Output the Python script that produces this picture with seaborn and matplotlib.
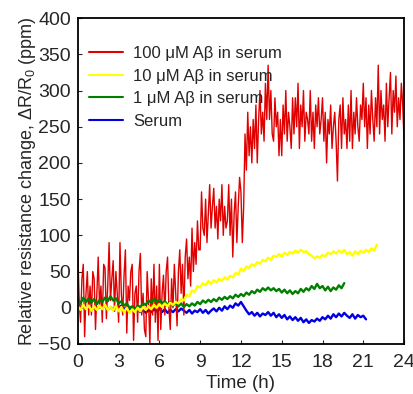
import numpy as np
import pandas as pd
import matplotlib.pyplot as plt
import seaborn as sns

# ============================================================
# DATA
# red is sampled every 0.1 h, the other three every 0.2 h
# ============================================================
RED_STEP = 0.1
STEP = 0.2

red_vals = [
    75, 10, -20, 40, 60, -40, 20, 50, -10, 30,
    -10, 50, 40, -30, 20, 70, 0, 30, -20, 60,
    55, -15, 30, 90, 10, 40, 65, -5, 50, 20,
    -20, 90, 20, -10, 45, 80, -35, 30, 10, 50,
    60, -45, 20, 30, -20, 50, 75, -10, 20, -30,
    -40, 50, 10, -50, 40, -10, 60, -20, 30, -45,
    60, -30, 20, 45, -10, 50, 70, 0, -30, 40,
    0, 60, 20, -25, 50, 80, 20, 60, -10, 70,
    95, 40, 70, 30, 110, 50, 90, 60, 120, 80,
    80, 160, 110, 100, 150, 90, 130, 170, 110, 140,
    165, 110, 140, 95, 150, 120, 170, 100, 140, 110,
    120, 170, 100, 150, 70, 130, 160, 90, 140, 180,
    160, 90, 140, 240, 190, 270, 210, 250, 200, 260,
    220, 280, 200, 260, 300, 240, 270, 230, 310, 260,
    335, 260, 300, 240, 230, 290, 250, 270, 210, 260,
    210, 280, 240, 300, 230, 270, 250, 220, 290, 240,
    290, 250, 310, 220, 280, 250, 300, 230, 270, 260,
    240, 300, 230, 270, 220, 280, 250, 290, 240, 260,
    290, 230, 270, 200, 260, 240, 280, 220, 250, 270,
    230, 175, 260, 280, 220, 290, 240, 260, 220, 280,
    230, 300, 220, 270, 240, 290, 250, 230, 280, 260,
    310, 250, 290, 220, 280, 240, 300, 260, 230, 290,
    250, 335, 240, 300, 260, 280, 230, 310, 250, 290,
    325, 240, 300, 270, 320, 250, 290, 260, 310, 280,
    230,
]

yellow_vals = [
    2, -3, 4, -2, 3,
    -4, 2, -3, 3, -2,
    4, -3, 2, -4, 3,
    -5, 1, -6, 0, -7,
    -2, -6, 0, -5, 1,
    -3, 2, -2, 4, 0,
    5, 1, 6, 2, 7,
    4, 8, 6, 12, 10,
    18, 16, 24, 22, 30,
    28, 34, 31, 37, 33,
    38, 35, 40, 37, 42,
    39, 44, 42, 48, 46,
    54, 51, 57, 55, 60,
    58, 63, 61, 66, 64,
    69, 66, 72, 70, 74,
    71, 76, 73, 77, 75,
    79, 76, 80, 77, 78,
    74, 72, 68, 71, 69,
    73, 71, 76, 74, 78,
    75, 79, 76, 80, 74,
    77, 72, 78, 74, 79,
    76, 80, 77, 82, 79,
    87,
]

green_vals = [
    12, 6, 14, 8, 13,
    7, 12, 5, 11, 8,
    14, 9, 16, 10, 13,
    6, 9, 3, 6, 0,
    2, -2, 3, 1, 6,
    4, 10, 7, 12, 8,
    11, 6, 9, 4, 8,
    3, 7, 2, 6, 1,
    5, 2, 6, 3, 8,
    5, 10, 7, 11, 8,
    12, 9, 14, 11, 15,
    12, 16, 13, 18, 15,
    19, 16, 21, 18, 23,
    20, 25, 22, 27, 24,
    28, 24, 27, 23, 26,
    21, 25, 20, 24, 19,
    23, 20, 26, 22, 27,
    24, 30, 26, 33, 27,
    30, 24, 29, 23, 28,
    25, 31, 27, 34,
]

blue_vals = [
    2, -2, 3, -1, 2,
    -3, 1, -2, 2, -1,
    3, -2, 1, -3, 2,
    -1, 3, -2, 1, -4,
    0, -5, -1, -6, -2,
    -7, -3, -6, -2, -5,
    -1, -6, -2, -7, -3,
    -6, -2, -5, -1, -4,
    -7, -3, -8, -4, -6,
    -2, -7, -3, -8, -4,
    -1, -5, 0, -4, 2,
    -2, 3, 0, 6, 3,
    8, 2, -4, -9, -6,
    -11, -7, -12, -8, -10,
    -6, -11, -7, -13, -9,
    -14, -10, -16, -12, -17,
    -13, -18, -14, -20, -16,
    -21, -17, -19, -15, -18,
    -13, -16, -11, -15, -9,
    -13, -8, -12, -7, -11,
    -14, -9, -15, -10, -13,
    -11, -16,
]

LABELS = ["100 μM Aβ in serum", "10 μM Aβ in serum", "1 μM Aβ in serum", "Serum"]
COLORS = ["#e00000", "#ffff00", "#008000", "#0000e0"]
SERIES = [red_vals, yellow_vals, green_vals, blue_vals]
STEPS = [RED_STEP, STEP, STEP, STEP]
WIDTHS = [1.0, 1.7, 1.7, 1.7]

# ============================================================
# PLOT
# ============================================================
sns.set_style("ticks")
plt.rcParams["font.family"] = ["Liberation Sans", "DejaVu Sans"]
plt.rcParams["mathtext.fontset"] = "custom"
plt.rcParams["mathtext.rm"] = "Liberation Sans"
plt.rcParams["mathtext.it"] = "Liberation Sans"

fig, ax = plt.subplots(figsize=(4.14, 3.94), dpi=100)
fig.subplots_adjust(left=0.188, right=0.976, top=0.954, bottom=0.127)

# draw order: blue, red, green, yellow
for idx in [3, 0, 2, 1]:
    vals = SERIES[idx]
    df = pd.DataFrame({"t": np.arange(len(vals)) * STEPS[idx], "v": vals})
    sns.lineplot(data=df, x="t", y="v", color=COLORS[idx], linewidth=WIDTHS[idx],
                 ax=ax, label=LABELS[idx], estimator=None, sort=False)

h, l = ax.get_legend_handles_labels()
order = [l.index(lab) for lab in LABELS]
leg = ax.legend([h[i] for i in order], LABELS, loc="upper left",
                bbox_to_anchor=(0.0, 0.95), frameon=False, fontsize=12,
                handlelength=2.0, handletextpad=0.6, labelspacing=0.45,
                borderaxespad=0.3)
for lh in leg.get_lines():
    lh.set_linewidth(1.5)

ax.set_xlim(0, 24)
ax.set_ylim(-50, 400)
ax.set_xticks(np.arange(0, 25, 3))
ax.set_yticks(np.arange(-50, 401, 50))
ax.tick_params(direction="in", length=3, width=0.8, labelsize=14, pad=5)
ax.tick_params(axis="x", pad=7)
for sp in ax.spines.values():
    sp.set_visible(True)
    sp.set_linewidth(1.3)
    sp.set_color("black")

ax.set_xlabel("Time (h)", fontsize=13.5, labelpad=3)
ax.set_ylabel("Relative resistance change, ΔR/R$_0$ (ppm)", fontsize=13, labelpad=0)

fig.savefig("out.png", dpi=100)
